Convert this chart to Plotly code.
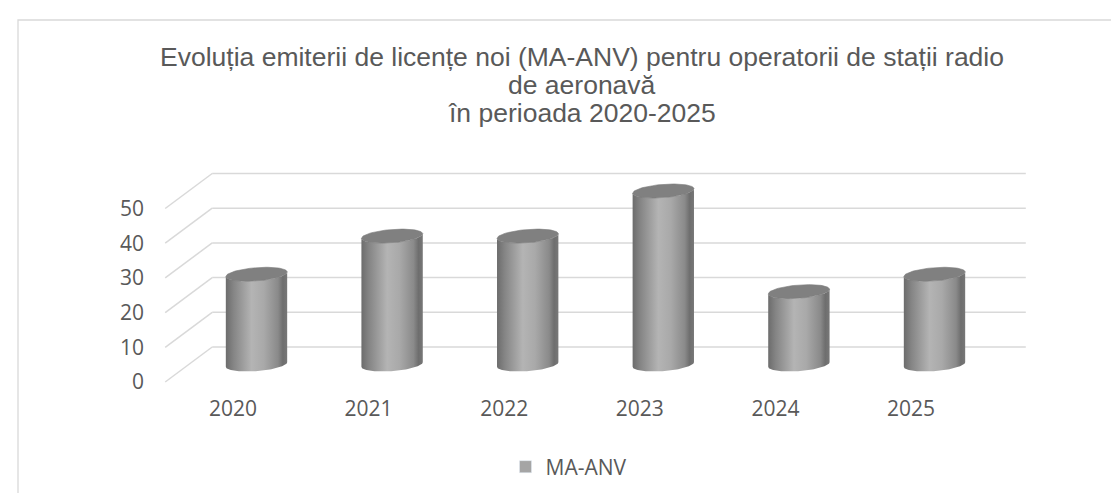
import math
import numpy as np
import plotly.graph_objects as go

# ---------------- data ----------------
years = ["2020", "2021", "2022", "2023", "2024", "2025"]
values = [26, 37, 37, 50, 21, 26]
y_ticks = [0, 10, 20, 30, 40, 50]
series_name = "MA-ANV"
title_lines = [
    "Evoluția emiterii de licențe noi (MA-ANV) pentru operatorii de stații radio",
    "de aeronavă",
    "în perioada 2020-2025",
]

# ---------------- geometry / style ----------------
W, H = 1119, 493
pL, pR, pT, pB = 140, 1040, 140, 386          # plot area in pixels
C0_PX, PX_PER_C = 225.0, 135.6                # front plane: category 0 position, px per category
V0_PX, PX_PER_V = 374.0, 3.47                 # front plane: value 0 position, px per unit
DEPTH_C = 47.0 / PX_PER_C                     # oblique depth shift (x) front->back
DEPTH_V = 35.0 / PX_PER_V                     # oblique depth shift (y) front->back
R_PX, A_PX, B_PX = 29.0, 10.0, 7.0            # cylinder radius and ellipse shear
R_C, A_C, B_V = R_PX / PX_PER_C, A_PX / PX_PER_C, B_PX / PX_PER_V

x_range = [(pL - C0_PX) / PX_PER_C, (pR - C0_PX) / PX_PER_C]
y_range = [(V0_PX - pB) / PX_PER_V, (V0_PX - pT) / PX_PER_V]

def paper_x(px):
    return (px - pL) / (pR - pL)

def paper_y(py):
    return (pB - py) / (pB - pT)

GRID = "#d9d9d9"
TEXT = "#595959"
TITLE_CX = 574

fig = go.Figure()

# ---- gridlines: back wall horizontals + side-wall diagonals ----
n = len(years)
left_c, right_c = -0.5, n - 0.5
gx, gy = [], []
for v in y_ticks:
    gx += [left_c + DEPTH_C, right_c + DEPTH_C, None]
    gy += [v + DEPTH_V, v + DEPTH_V, None]
    gx += [left_c, left_c + DEPTH_C, None]
    gy += [v, v + DEPTH_V, None]
fig.add_trace(go.Scatter(x=gx, y=gy, mode="lines", line=dict(color=GRID, width=1.5),
                         hoverinfo="skip", showlegend=False))

# ---- cylinders ----
th0 = math.atan2(A_PX, R_PX)

def ell(cx, v, th):
    th = np.asarray(th)
    return cx + R_C * np.cos(th) + A_C * np.sin(th), v + B_V * np.sin(th)

body_scale = [[0.0, "#6c6c6c"], [0.12, "#848484"], [0.42, "#b4b4b4"], [0.62, "#a9a9a9"],
              [0.85, "#8a8a8a"], [0.93, "#6e6e6e"], [1.0, "#777777"]]

for i, (yr, val) in enumerate(zip(years, values)):
    cx = i + DEPTH_C * 0.5
    vb = DEPTH_V * 0.5
    vt = vb + val
    th_b = np.linspace(math.pi + th0, 2 * math.pi + th0, 60)
    bx, by = ell(cx, vb, th_b)
    tx, ty = ell(cx, vt, th_b[::-1])
    xs = np.concatenate([bx, tx, bx[:1]])
    ys = np.concatenate([by, ty, by[:1]])
    fig.add_trace(go.Scatter(x=xs, y=ys, mode="lines", fill="toself",
                             line=dict(width=0, color="rgba(0,0,0,0)"),
                             fillgradient=dict(type="horizontal", colorscale=body_scale),
                             hovertemplate=f"{yr}: {val}<extra></extra>", showlegend=False))
    th_c = np.linspace(0, 2 * math.pi, 80)
    cxs, cys = ell(cx, vt, th_c)
    fig.add_trace(go.Scatter(x=cxs, y=cys, mode="lines", fill="toself",
                             line=dict(width=0.6, color="#7a7a7a"), fillcolor="#808080",
                             hoverinfo="skip", showlegend=False))

# ---- legend entry ----
fig.add_trace(go.Bar(x=[None], y=[None], name=series_name, marker_color="#a5a5a5",
                     showlegend=True))

title_font = dict(family="Liberation Sans", size=26.5, color=TEXT)
annotations = []
for k, line in enumerate(title_lines[1:], start=1):
    annotations.append(dict(text=line, x=TITLE_CX / W, xref="paper", xanchor="center",
                            y=paper_y(49 + 28 * k), yref="paper", yanchor="middle",
                            showarrow=False, font=title_font))
# paper x for annotations must refer to plot area
for a in annotations:
    a["x"] = paper_x(TITLE_CX)

fig.update_layout(
    width=W, height=H,
    margin=dict(l=pL, r=W - pR, t=pT, b=H - pB, pad=0),
    paper_bgcolor="white", plot_bgcolor="white",
    title=dict(text=title_lines[0], x=TITLE_CX / W, xref="container", xanchor="center",
               y=1 - 49 / H, yref="container", yanchor="middle", font=title_font),
    annotations=annotations,
    xaxis=dict(range=x_range, tickmode="array", tickvals=list(range(n)), ticktext=years,
               showgrid=False, zeroline=False, showline=False, ticks="",
               tickfont=dict(family="Open Sans", size=21, color=TEXT), fixedrange=True),
    yaxis=dict(range=y_range, tickmode="array", tickvals=y_ticks,
               ticktext=[str(t) for t in y_ticks], ticklabelstandoff=3,
               showgrid=False, zeroline=False, showline=False, ticks="",
               tickfont=dict(family="Open Sans", size=21, color=TEXT), fixedrange=True),
    showlegend=True,
    legend=dict(orientation="h", x=paper_x(561), xanchor="center", y=paper_y(459),
                yanchor="middle", font=dict(family="Open Sans", size=21, color=TEXT),
                bgcolor="rgba(0,0,0,0)"),
    shapes=[dict(type="rect", xref="paper", yref="paper",
                 x0=paper_x(10), x1=paper_x(1142), y0=paper_y(530), y1=paper_y(12),
                 line=dict(color=GRID, width=1.3), layer="below")],
)

fig.write_html("out.html")
